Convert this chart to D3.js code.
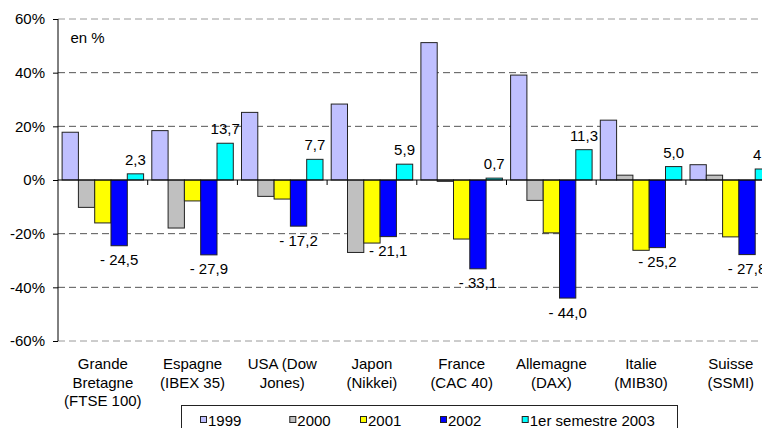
<!DOCTYPE html>
<html>
<head>
<meta charset="utf-8">
<script src="https://cdn.jsdelivr.net/npm/d3@7"></script>
<style>
    body { margin: 0; overflow: hidden; background: #fff; }
    text { font-family: Arial, "Liberation Sans", sans-serif; fill: #000; }
</style>
</head>
<body>
<div id="chart"></div>
<script>
// categories, one label line per entry
var categories = [
    ['Grande', 'Bretagne', '(FTSE 100)'],
    ['Espagne', '(IBEX 35)'],
    ['USA (Dow', 'Jones)'],
    ['Japon', '(Nikkei)'],
    ['France', '(CAC 40)'],
    ['Allemagne', '(DAX)'],
    ['Italie', '(MIB30)'],
    ['Suisse', '(SSMI)']
];
var seriesNames = ['1999', '2000', '2001', '2002', '1er semestre 2003'];
var seriesColors = ['#c0c0ff', '#c0c0c0', '#ffff00', '#0000ff', '#00ffff'];

// values in %
var v1999 = [17.8, 18.4, 25.2, 28.3, 51.2, 39.1, 22.3, 5.7];
var v2000 = [-10.2, -17.9, -6.1, -27.0, -0.5, -7.6, 1.8, 1.8];
var v2001 = [-16.0, -7.8, -7.1, -23.5, -22.0, -19.7, -26.2, -21.2];
var v2002 = [-24.5, -27.9, -17.2, -21.1, -33.1, -44.0, -25.2, -27.8];
var v2003 = [2.3, 13.7, 7.7, 5.9, 0.7, 11.3, 5.0, 4.1];
var yTicks = [-60, -40, -20, 0, 20, 40, 60];

var allSeries = [v1999, v2000, v2001, v2002, v2003];

var width = 762, height = 428;
var margin = {left: 58, top: 19};
var plotW = 717.6, plotH = 322;
var fontSize = '15px';

var svg = d3.select('#chart')
    .append('svg')
    .attr('width', width)
    .attr('height', height);

var g = svg.append('g')
    .attr('transform', 'translate(' + margin.left + ',' + margin.top + ')');

var x = d3.scaleBand()
    .domain(d3.range(categories.length))
    .range([0, plotW])
    .padding(0);

var xs = d3.scaleBand()
    .domain(d3.range(seriesNames.length))
    .range([4.1, x.bandwidth() - 4.1]);

var y = d3.scaleLinear()
    .domain([-60, 60])
    .range([plotH, 0]);

// grid lines
g.selectAll('.grid')
    .data(yTicks.filter(function (d) { return d !== 0; }))
    .enter()
    .append('line')
    .attr('x1', 0)
    .attr('x2', width)
    .attr('y1', function (d) { return y(d); })
    .attr('y2', function (d) { return y(d); })
    .attr('stroke', function (d) { return Math.abs(d) === 60 ? '#9a9a9a' : '#555'; })
    .attr('stroke-width', 1)
    .attr('stroke-dasharray', '7,4');

// y axis
var yAxis = d3.axisLeft(y)
    .tickValues(yTicks)
    .tickSize(5)
    .tickPadding(8)
    .tickFormat(function (d) { return d + '%'; });

var ya = g.append('g').call(yAxis);
ya.select('.domain').attr('stroke', '#000').attr('d', 'M0,' + y(60) + 'V' + y(-60));
ya.selectAll('.tick line').attr('stroke', '#000');
ya.selectAll('.tick text')
    .style('font-size', fontSize)
    .attr('font-family', null);

// bars
var groups = g.selectAll('.grp')
    .data(categories)
    .enter()
    .append('g')
    .attr('class', 'grp')
    .attr('transform', function (d, i) { return 'translate(' + x(i) + ',0)'; });

groups.selectAll('rect')
    .data(function (d, i) {
        return allSeries.map(function (s, k) { return {k: k, v: s[i]}; });
    })
    .enter()
    .append('rect')
    .attr('x', function (d) { return xs(d.k); })
    .attr('width', xs.bandwidth())
    .attr('y', function (d) { return y(Math.max(0, d.v)); })
    .attr('height', function (d) { return Math.abs(y(d.v) - y(0)); })
    .attr('fill', function (d) { return seriesColors[d.k]; })
    .attr('stroke', '#222')
    .attr('stroke-width', 1);

// zero line + category ticks
g.append('line')
    .attr('x1', 0).attr('x2', width)
    .attr('y1', y(0)).attr('y2', y(0))
    .attr('stroke', '#000');

g.selectAll('.ctick')
    .data(d3.range(1, categories.length + 1))
    .enter()
    .append('line')
    .attr('x1', function (d) { return d * x.bandwidth(); })
    .attr('x2', function (d) { return d * x.bandwidth(); })
    .attr('y1', y(0))
    .attr('y2', y(0) + 5)
    .attr('stroke', '#000');

function fmt(v) {
    var s = d3.format('.1f')(Math.abs(v)).replace('.', ',');
    return v < 0 ? '- ' + s : s;
}

// labels on 2002 (below) and 2003 (above)
groups.append('text')
    .attr('x', xs(3) + xs.bandwidth() / 2)
    .attr('y', function (d, i) { return y(v2002[i]) + 19.5; })
    .attr('text-anchor', 'middle')
    .style('font-size', fontSize)
    .text(function (d, i) { return fmt(v2002[i]); });

groups.append('text')
    .attr('x', xs(4) + xs.bandwidth() / 2)
    .attr('y', function (d, i) { return y(v2003[i]) - 9; })
    .attr('text-anchor', 'middle')
    .style('font-size', fontSize)
    .text(function (d, i) { return fmt(v2003[i]); });

// category labels
groups.append('text')
    .attr('text-anchor', 'middle')
    .style('font-size', fontSize)
    .selectAll('tspan')
    .data(function (d) { return d; })
    .enter()
    .append('tspan')
    .attr('x', x.bandwidth() / 2)
    .attr('y', function (d, j) { return 350.3 + j * 18.4; })
    .text(function (d) { return d; });

// unit
g.append('text')
    .attr('x', 12.5)
    .attr('y', 24)
    .style('font-size', fontSize)
    .text('en %');

// legend
var legendX = [200, 289.3, 360, 440, 521.7];
var legend = svg.append('g');
legend.append('rect')
    .attr('x', 181.5).attr('y', 405.5)
    .attr('width', 496).attr('height', 40)
    .attr('fill', '#fff')
    .attr('stroke', '#222');

var items = legend.selectAll('.li')
    .data(seriesNames)
    .enter()
    .append('g')
    .attr('transform', function (d, i) { return 'translate(' + legendX[i] + ',0)'; });

items.append('rect')
    .attr('x', 0.5).attr('y', 416.5)
    .attr('width', 6).attr('height', 6)
    .attr('fill', function (d, i) { return seriesColors[i]; })
    .attr('stroke', '#222');

items.append('text')
    .attr('x', 8)
    .attr('y', 425.7)
    .style('font-size', fontSize)
    .text(function (d) { return d; });
</script>
</body>
</html>
